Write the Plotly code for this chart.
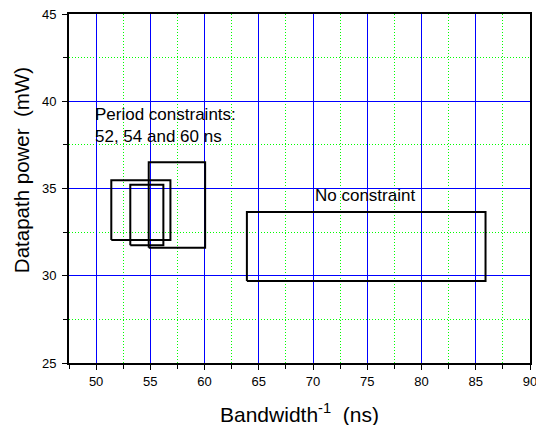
import plotly.graph_objects as go

# Rectangles: (name, x_min, x_max, y_min, y_max)
rect_names = ["52 ns", "54 ns", "60 ns", "No constraint"]
rect_x_min = [51.4, 53.15, 54.85, 63.9]
rect_x_max = [56.85, 56.2, 60.05, 85.9]
rect_y_min = [32.05, 31.75, 31.6, 29.7]
rect_y_max = [35.47, 35.22, 36.5, 33.65]

x_ticks = [50, 55, 60, 65, 70, 75, 80, 85, 90]
y_ticks = [25, 30, 35, 40, 45]

FONT = "Liberation Sans, Arial, sans-serif"

fig = go.Figure()
for n, x0, x1, y0, y1 in zip(rect_names, rect_x_min, rect_x_max, rect_y_min, rect_y_max):
    fig.add_trace(go.Scatter(
        x=[x0, x1, x1, x0, x0], y=[y0, y0, y1, y1, y0],
        mode="lines", name=n, line=dict(color="black", width=2),
        showlegend=False, hoverinfo="skip"))

fig.add_annotation(x=50, y=38.6, xref="x", yref="y", xanchor="left", yanchor="middle", xshift=-3,
                   text="Period constraints:<br>52, 54 and 60 ns", showarrow=False, align="left",
                   font=dict(family=FONT, size=17, color="black"))
fig.add_annotation(x=74.8, y=34.6, xref="x", yref="y", xanchor="center", yanchor="middle",
                   text="No constraint", showarrow=False,
                   font=dict(family=FONT, size=17, color="black"))

# axis titles
fig.add_annotation(x=0.5, y=-0.1443, xref="paper", yref="paper", xanchor="center", yanchor="middle",
                   text="Bandwidth<sup>-1</sup>\u00a0\u00a0(ns)", showarrow=False,
                   font=dict(family=FONT, size=21, color="black"))
fig.add_annotation(x=-0.1041, y=0.5526, xref="paper", yref="paper", xanchor="center", yanchor="middle",
                   text="Datapath power\u00a0\u00a0(mW)", showarrow=False, textangle=-90,
                   font=dict(family=FONT, size=20.5, color="black"))

axis_common = dict(
    showline=True, linecolor="black", linewidth=2, mirror=True,
    ticks="outside", ticklen=5, tickwidth=1, tickcolor="black",
    showgrid=True, gridcolor="#0000ff", gridwidth=1, zeroline=False,
    tickfont=dict(family=FONT, size=13, color="black"), automargin=False,
    ticklabeloverflow="allow",
)

fig.update_xaxes(range=[47.5, 90], tickvals=x_ticks, ticktext=[str(v) for v in x_ticks],
                 minor=dict(dtick=2.5, tick0=47.5, showgrid=True, gridcolor="#00ff00", griddash="1px,2px", gridwidth=1,
                            ticks="outside", ticklen=4, tickcolor="black"),
                 **axis_common)
fig.update_yaxes(range=[25, 45], tickvals=y_ticks, ticktext=[str(v) for v in y_ticks],
                 ticklabelstandoff=3,
                 minor=dict(dtick=2.5, tick0=25, showgrid=True, gridcolor="#00ff00", griddash="1px,2px", gridwidth=1,
                            ticks="outside", ticklen=4, tickcolor="black"),
                 **axis_common)

fig.update_layout(width=536, height=425, margin=dict(l=69, r=6, t=14, b=62, autoexpand=False),
                  plot_bgcolor="white", paper_bgcolor="white", showlegend=False,
                  font=dict(family=FONT, color="black"))

fig.write_html("out.html", config={"displayModeBar": False},
               post_script="document.body.style.margin='0';document.body.style.padding='0';"
                           "document.body.style.overflow='hidden';")
